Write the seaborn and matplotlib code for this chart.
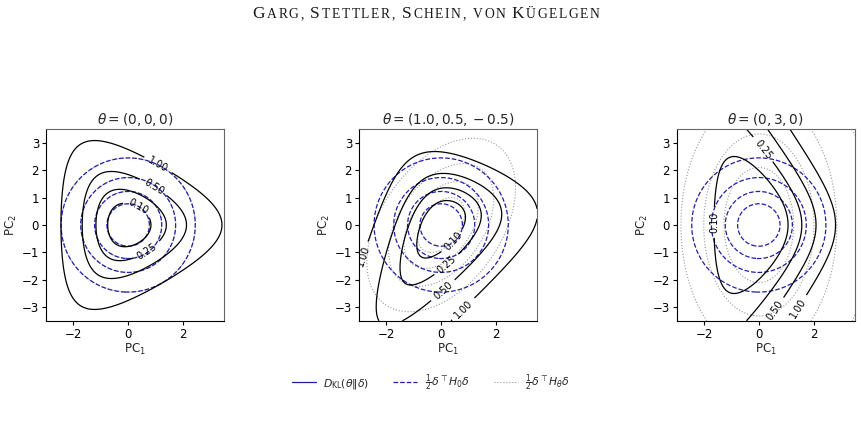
import numpy as np
import matplotlib
matplotlib.use('Agg')
import matplotlib.pyplot as plt
from matplotlib.lines import Line2D
import seaborn as sns

# parameters of the three panels
thetas = [(0.0, 0.0, 0.0), (1.0, 0.5, -0.5), (0.0, 3.0, 0.0)]
titles = [r'$\theta = (0, 0, 0)$', r'$\theta = (1.0, 0.5, -0.5)$', r'$\theta = (0, 3, 0)$']
levels = [0.10, 0.25, 0.50, 1.00]
legend_labels = [r'$D_{\mathrm{KL}}(\theta \Vert \delta)$',
                 r'$\frac{1}{2}\delta^\top H_0 \delta$',
                 r'$\frac{1}{2}\delta^\top H_\theta \delta$']
header = [("G", 1), ("ARG, ", 0), ("S", 1), ("TETTLER, ", 0), ("S", 1), ("CHEIN, ", 0),
          ("VON ", 0), ("K", 1), ("ÜGELGEN", 0)]

# where the contour labels sit (one list per panel)
label_spots = [
    [(0.35, 0.64), (0.69, -0.95), (0.93, 1.4), (1.08, 2.18)],
    [(0.44, -0.59), (0.24, -1.49), (0.08, -2.4), (0.8, -3.06), (-2.9, -1.13)],
    [(-1.72, 0.1), (0.2, 2.8), (0.55, -3.1), (1.53, -3.1)],
]

# principal directions of the logit plane (sum-zero subspace)
pc1 = np.array([1.0, -2.0, 1.0]) / np.sqrt(6)
pc2 = np.array([-1.0, 0.0, 1.0]) / np.sqrt(2)

sns.set_style('ticks')
plt.rcParams['font.family'] = ['DejaVu Sans']
plt.rcParams['axes.edgecolor'] = 'black'
plt.rcParams['xtick.color'] = 'black'
plt.rcParams['ytick.color'] = 'black'
plt.rcParams['axes.linewidth'] = 0.8


def logsumexp(a):
    m = a.max(axis=-1, keepdims=True)
    return (m + np.log(np.exp(a - m).sum(axis=-1, keepdims=True)))[..., 0]


def fisher(theta):
    p = np.exp(theta - logsumexp(theta[None])[0])
    return np.diag(p) - np.outer(p, p), p


xs = np.linspace(-3, 3.5, 400)
ys = np.linspace(-3.5, 3.5, 400)
X, Y = np.meshgrid(xs, ys)
D = X[..., None] * pc1 + Y[..., None] * pc2

H0, _ = fisher(np.zeros(3))
q0 = 0.5 * np.einsum('...i,ij,...j->...', D, H0, D)

fig = plt.figure(figsize=(8.62, 4.24), dpi=100)
lefts = [0.0534, 0.4165, 0.785]
blue = '#1f1fa8'

for k, th in enumerate(thetas):
    th = np.array(th)
    ax = fig.add_axes([lefts[k], 0.2406, 0.2065, 0.4575])
    Ht, p = fisher(th)
    qt = 0.5 * np.einsum('...i,ij,...j->...', D, Ht, D)
    kl = logsumexp(th + D) - logsumexp(th[None])[0] - (D * p).sum(-1)

    ax.contour(X, Y, qt, levels=levels, colors='#999999', linestyles=':', linewidths=0.8)
    ax.contour(X, Y, q0, levels=levels, colors=blue, linestyles='--', linewidths=0.9)
    cs = ax.contour(X, Y, kl, levels=levels, colors='k', linestyles='-', linewidths=0.9)
    ax.clabel(cs, fmt='%.2f', fontsize=7, inline=True, manual=label_spots[k])

    ax.set_xlim(-3, 3.5)
    ax.set_ylim(-3.5, 3.5)
    ax.set_aspect('equal')
    ax.set_xticks([-2, 0, 2])
    ax.set_yticks([-3, -2, -1, 0, 1, 2, 3])
    ax.tick_params(labelsize=8.5, length=3, width=0.8, pad=2)
    ax.set_xlabel(r'PC$_1$', fontsize=8.5, labelpad=1)
    ax.set_ylabel(r'PC$_2$', fontsize=8.5, labelpad=2)
    ax.set_title(titles[k], fontsize=9.8, pad=4)
    for s in ['top', 'right']:
        ax.spines[s].set_color('#666666')

handles = [Line2D([], [], color=blue, ls='-', lw=0.9),
           Line2D([], [], color=blue, ls='--', lw=0.9),
           Line2D([], [], color='#999999', ls=':', lw=0.8)]
fig.legend(handles, legend_labels, loc='center', bbox_to_anchor=(0.5, 0.097), ncol=3,
           frameon=False, fontsize=7.8, handlelength=2.2, handletextpad=0.7, columnspacing=2.2)

# small-caps running header, set letter by letter with a little tracking
renderer = fig.canvas.get_renderer()
W = fig.bbox.width
pieces = []
x = 0.0
for txt, big in header:
    for ch in txt:
        t = fig.text(0, 0.957, ch, fontsize=12.5 if big else 9.8, family='Liberation Serif',
                     va='baseline', ha='left', color='#1a1a1a')
        w = t.get_window_extent(renderer).width if ch != ' ' else 3.5
        pieces.append((t, x))
        x += w + 1.6
start = 427 - x / 2
for t, off in pieces:
    t.set_x((start + off) / W)

fig.savefig('out.png', dpi=100)
